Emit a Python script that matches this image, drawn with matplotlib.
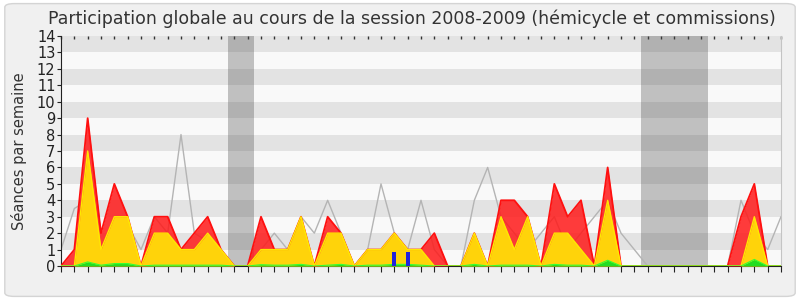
import matplotlib
matplotlib.use("Agg")
import matplotlib.pyplot as plt
from matplotlib.patches import FancyBboxPatch
import numpy as np

# ---- data (weekly, session 2008-2009) ----
weeks = list(range(55))
presence = [0, 1, 9, 2, 5, 3, 0, 3, 3, 1,
            2, 3, 1, 0, 0, 3, 1, 1, 3, 0,
            3, 2, 0, 1, 1, 2, 1, 1, 2, 0,
            0, 2, 0, 4, 4, 3, 0, 5, 3, 4,
            0, 6, 0, 0, 0, 0, 0, 0, 0, 0,
            0, 3, 5, 0, 0]
participation = [0, 0, 7, 1, 3, 3, 0, 2, 2, 1,
                 1, 2, 1, 0, 0, 1, 1, 1, 3, 0,
                 2, 2, 0, 1, 1, 2, 1, 1, 0, 0,
                 0, 2, 0, 3, 1, 3, 0, 2, 2, 1,
                 0, 4, 0, 0, 0, 0, 0, 0, 0, 0,
                 0, 0, 3, 0, 0]
interventions = [0, 0, 0.25, 0.05, 0.15, 0.15, 0, 0.05, 0.05, 0.05,
                 0.05, 0.05, 0.05, 0, 0, 0.08, 0.05, 0.05, 0.1, 0,
                 0.05, 0.1, 0, 0.05, 0.05, 0.1, 0.1, 0.05, 0, 0,
                 0, 0.1, 0, 0.05, 0.05, 0.05, 0, 0.1, 0.05, 0.05,
                 0, 0.35, 0, 0, 0, 0, 0, 0, 0, 0,
                 0, 0, 0.4, 0, 0]
mediane = [1, 3.5, 4, 1, 2, 2.5, 1, 3, 2, 8,
           2, 1.5, 1, 0, 0, 1, 2, 1, 3, 2,
           4, 2, 0, 1, 5, 2, 1, 4, 1, 0,
           0, 4, 6, 3, 2, 1, 2, 3, 1, 2,
           3, 4, 2, 1, 0, 0, 0, 0, 0, 0,
           0, 4, 2, 1, 3]
questions_weeks = [25, 26]
questions_vals = [0.87, 0.87]
vacances_weeks = [13, 14, 44, 45, 46, 47, 48]
month_pos = [1, 6, 11, 15, 18, 22, 27, 31, 36, 40, 45, 51, 54]
month_labels = ["Oct", "Nov", "Déc", "Jan 09", "Fév", "Mar", "Avr", "Mai",
                "Juin", "Juil", "Août", "Sept", "Oct"]
ymax = 14

fig = plt.figure(figsize=(8, 3), dpi=100)
fig.patch.set_facecolor("white")
frame = FancyBboxPatch((0.006, 0.012), 0.988, 0.976, boxstyle="round,pad=0,rounding_size=0.012",
                       transform=fig.transFigure, facecolor="#f0f0f0", edgecolor="#d4d4d4",
                       linewidth=1.0, zorder=-10)
fig.patches.append(frame)

ax = fig.add_axes([0.07625, 0.1133, 0.9, 0.7667])
ax.set_facecolor("#f9f9f9")
for i in range(1, ymax, 2):
    ax.axhspan(i, i + 1, color="#e3e3e3", lw=0, zorder=0)

ax.bar(vacances_weeks, [ymax] * len(vacances_weeks), width=1.0, color=(0.3, 0.3, 0.3),
       alpha=0.33, lw=0, zorder=1)

x = np.array(weeks)
ax.plot(x, mediane, color="#b4b4b4", lw=1.0, zorder=2)
ax.fill_between(x, 0, presence, color=(1.0, 0.1, 0.1), alpha=0.85, lw=0, zorder=3)
ax.plot(x, presence, color="#ff1010", lw=1.3, zorder=3.5)
ax.fill_between(x, 0, participation, color="#ffd30a", lw=0, zorder=4)
ax.plot(x, participation, color="#ffe800", lw=1.0, zorder=4.5)
ax.fill_between(x, 0, interventions, color="#22dd22", lw=0, zorder=5)
ax.plot(x, interventions, color="#33ff33", lw=0.8, zorder=5.5)
ax.bar(questions_weeks, questions_vals, width=0.3, color="#2222dd", lw=0, zorder=6)

ax.set_xlim(0, 54)
ax.set_ylim(0, ymax)
ax.set_yticks(range(0, ymax + 1))
ax.tick_params(axis="y", length=3, labelsize=10.5, colors="#222222", pad=1)
ax.set_xticks(weeks)
ax.set_xticklabels([])
ax.tick_params(axis="x", which="major", length=4, direction="out", color="#222222")
ax.set_xticks(month_pos, minor=True)
ax.set_xticklabels(month_labels, minor=True)
ax.tick_params(axis="x", which="minor", length=0, labelsize=10.5, colors="#333333", pad=1)

top = ax.secondary_xaxis("top")
top.set_xticks(weeks)
top.set_xticklabels([])
top.tick_params(direction="in", length=2, width=1, color="#333333")
top.spines["top"].set_visible(False)

ax.spines["top"].set_visible(False)
ax.spines["right"].set_color("#c4c4c4")
ax.spines["left"].set_color("#222222")
ax.spines["bottom"].set_color("#222222")
ax.set_ylabel("Séances par semaine", fontsize=10.5, color="#333333", labelpad=7)

fig.text(0.515, 0.937, "Participation globale au cours de la session 2008-2009 (hémicycle et commissions)",
         ha="center", va="center", fontsize=12.5, color="#333333")

fig.savefig("out.png", dpi=100, facecolor=fig.get_facecolor())
